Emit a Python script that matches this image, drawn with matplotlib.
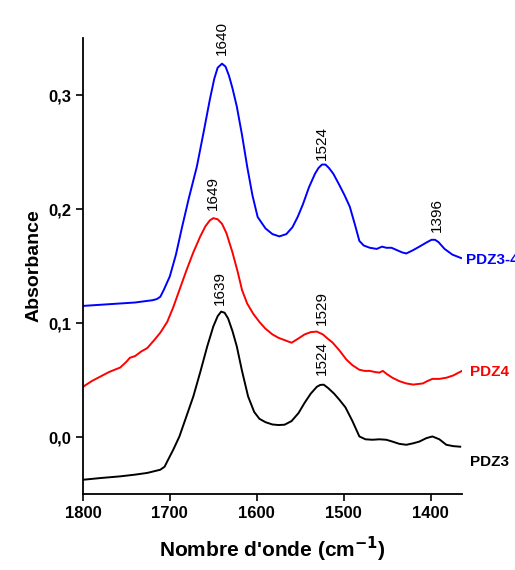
import numpy as np
import matplotlib.pyplot as plt

plt.rcParams['font.family'] = ['Liberation Sans', 'DejaVu Sans']

# PDZ3-4 (blue)
wn_b = [1800, 1780, 1760, 1740, 1720, 1715, 1711, 1707, 1700, 1693, 1686, 1678,
        1669, 1661, 1654, 1649, 1645, 1640, 1636, 1632, 1628, 1623, 1617, 1611, 1605, 1599,
        1590, 1582, 1574, 1566, 1559, 1553, 1547, 1540, 1533, 1529, 1525, 1521, 1517, 1512,
        1505, 1499, 1493, 1487, 1482, 1477, 1470, 1462, 1456, 1451, 1445, 1439,
        1433, 1428, 1420, 1413, 1404, 1399, 1395, 1391, 1384, 1375, 1365]
ab_b = [0.115, 0.116, 0.117, 0.118, 0.120, 0.121, 0.123, 0.129, 0.141, 0.160, 0.184, 0.210,
        0.237, 0.268, 0.296, 0.314, 0.324, 0.3275, 0.325, 0.317, 0.306, 0.290, 0.265, 0.237, 0.212, 0.193,
        0.183, 0.178, 0.176, 0.178, 0.184, 0.193, 0.204, 0.219, 0.231, 0.236, 0.239, 0.239, 0.236, 0.231,
        0.221, 0.212, 0.202, 0.186, 0.172, 0.168, 0.166, 0.165, 0.167, 0.166, 0.166, 0.164,
        0.162, 0.161, 0.164, 0.167, 0.171, 0.173, 0.173, 0.171, 0.165, 0.160, 0.157]

# PDZ4 (red)
wn_r = [1800, 1790, 1780, 1770, 1757, 1750, 1746, 1740, 1733, 1726, 1718, 1711,
        1703, 1696, 1689, 1681, 1673, 1665, 1659, 1654, 1650, 1645, 1640, 1635, 1628, 1622,
        1617, 1611, 1604, 1597, 1590, 1582, 1575, 1568, 1560, 1553, 1545, 1538,
        1531, 1524, 1518, 1513, 1505, 1497, 1490, 1482, 1476, 1470, 1464, 1459,
        1455, 1450, 1444, 1436, 1428, 1420, 1409, 1404, 1398, 1390, 1382, 1374, 1364]
ab_r = [0.044, 0.049, 0.053, 0.057, 0.061, 0.066, 0.0695, 0.071, 0.075, 0.078, 0.085, 0.0915,
        0.101, 0.114, 0.129, 0.146, 0.162, 0.176, 0.185, 0.190, 0.192, 0.191, 0.187, 0.179, 0.162, 0.145,
        0.129, 0.117, 0.108, 0.101, 0.095, 0.090, 0.087, 0.085, 0.0827, 0.086, 0.090, 0.092,
        0.0925, 0.090, 0.086, 0.083, 0.076, 0.068, 0.063, 0.059, 0.058, 0.058, 0.057, 0.0565,
        0.058, 0.055, 0.052, 0.049, 0.047, 0.046, 0.047, 0.049, 0.051, 0.051, 0.052, 0.054, 0.058]

# PDZ3 (black)
wn_k = [1800, 1780, 1757, 1740, 1726, 1711, 1706, 1703, 1696, 1689, 1681, 1673,
        1665, 1657, 1650, 1645, 1641, 1637, 1633, 1628, 1623, 1617, 1610, 1603, 1597,
        1590, 1582, 1575, 1568, 1560, 1552, 1545, 1538, 1531, 1527, 1523, 1518, 1511,
        1505, 1498, 1490, 1482, 1475, 1467, 1459, 1451, 1444, 1436, 1428, 1420,
        1413, 1405, 1398, 1390, 1382, 1374, 1366]
ab_k = [-0.0375, -0.036, -0.0345, -0.033, -0.0315, -0.0287, -0.026, -0.0214, -0.011, 0.0005, 0.018, 0.0356,
        0.057, 0.0795, 0.097, 0.106, 0.110, 0.109, 0.104, 0.093, 0.0795, 0.058, 0.0356, 0.022, 0.016,
        0.013, 0.011, 0.0105, 0.0108, 0.014, 0.021, 0.030, 0.038, 0.044, 0.0457, 0.0459, 0.043, 0.038,
        0.0327, 0.026, 0.014, 0.0005, -0.002, -0.0024, -0.002, -0.0024, -0.004, -0.006, -0.0068, -0.0055,
        -0.004, -0.001, 0.0005, -0.002, -0.0068, -0.008, -0.0085]

peak_text = ['1640', '1524', '1396', '1649', '1529', '1639', '1524']
peak_x = [1640, 1525, 1393, 1650, 1525, 1642, 1525]
peak_y = [0.335, 0.243, 0.180, 0.1995, 0.0985, 0.116, 0.0546]

fig = plt.figure(figsize=(5.15, 5.7), dpi=100)
ax = fig.add_axes([0.161, 0.1333, 0.736, 0.80])

ax.plot(wn_b, ab_b, color='#0000ff', lw=1.4, solid_joinstyle='round')
ax.plot(wn_r, ab_r, color='#ff0000', lw=1.4, solid_joinstyle='round')
ax.plot(wn_k, ab_k, color='black', lw=1.4, solid_joinstyle='round')

for t, x, y in zip(peak_text, peak_x, peak_y):
    ax.text(x, y, t, rotation=90, ha='center', va='bottom', fontsize=11)

ax.text(1359, 0.155, 'PDZ3-4', color='#0000ff', fontsize=11, fontweight='bold',
        va='center', ha='left', clip_on=False)
ax.text(1355, 0.057, 'PDZ4', color='#ff0000', fontsize=11, fontweight='bold',
        va='center', ha='left', clip_on=False)
ax.text(1355, -0.022, 'PDZ3', color='black', fontsize=11, fontweight='bold',
        va='center', ha='left', clip_on=False)

ax.set_xlim(1800, 1364)
ax.set_ylim(-0.05, 0.35)
ax.set_xticks([1800, 1700, 1600, 1500, 1400])
ax.set_yticks([0.0, 0.1, 0.2, 0.3])
ax.set_yticklabels(['0,0', '0,1', '0,2', '0,3'])
ax.tick_params(direction='out', length=5, width=1.2, labelsize=12)
for lab in ax.get_xticklabels() + ax.get_yticklabels():
    lab.set_fontweight('bold')

ax.spines['top'].set_visible(False)
ax.spines['right'].set_visible(False)
ax.spines['left'].set_linewidth(1.3)
ax.spines['bottom'].set_linewidth(1.3)

ax.set_xlabel("Nombre d'onde (cm$^{\\mathbf{-1}}$)", fontsize=15, fontweight='bold', labelpad=10)
ax.set_ylabel('Absorbance', fontsize=14, fontweight='bold', labelpad=4)

fig.savefig('out.png', dpi=100)
